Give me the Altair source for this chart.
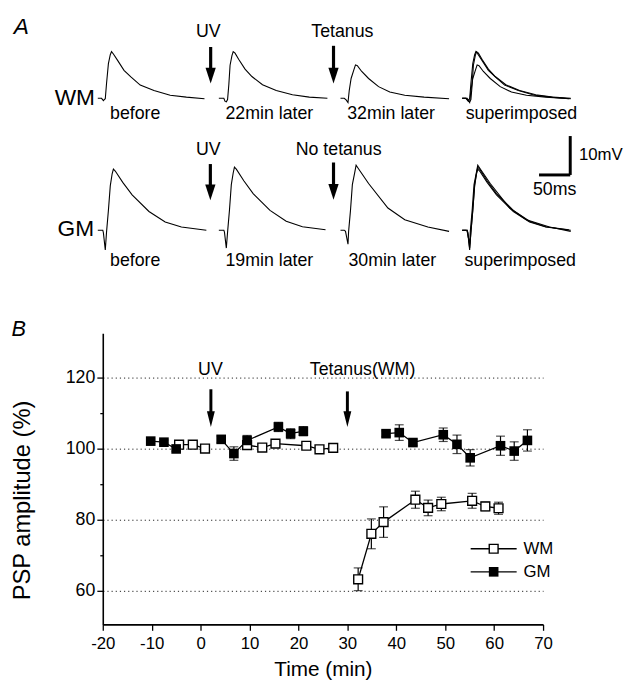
import altair as alt
import pandas as pd

FONT = "Liberation Sans"

# ---------------- Panel B data (time in min, PSP amplitude in %) ----------------
series_names = ["WM", "GM"]
uv_time = 2.1
tetanus_time = 30.0

wm_time = [-4.4, -1.6, 0.9, 9.5, 12.6, 15.3, 21.6, 24.3, 27.1,
           32.2, 34.9, 37.4, 43.9, 46.5, 49.2, 55.5, 58.2, 60.9]
wm_amp = [101.1, 101.1, 100.0, 101.0, 100.3, 101.4, 100.8, 99.8, 100.2,
          63.2, 76.0, 79.3, 85.6, 83.3, 84.4, 85.3, 83.7, 83.2]
wm_sem = [0.8, 0.8, 0.6, 1.0, 0.7, 0.8, 0.8, 1.0, 0.7,
          3.2, 4.2, 4.3, 2.4, 2.2, 1.9, 2.1, 1.2, 1.7]

gm_time = [-10.2, -7.5, -5.0, 4.2, 6.8, 9.5, 15.9, 18.4, 21.0,
           37.9, 40.6, 43.4, 49.6, 52.4, 55.1, 61.3, 64.1, 66.8]
gm_amp = [102.1, 101.8, 99.9, 102.6, 98.6, 102.3, 106.1, 104.2, 104.9,
          104.2, 104.5, 101.7, 103.9, 101.2, 97.4, 100.8, 99.3, 102.3]
gm_sem = [0.6, 0.6, 0.7, 0.9, 1.9, 1.4, 1.3, 1.4, 1.3,
          0.8, 2.2, 0.8, 1.9, 2.6, 2.3, 2.7, 2.6, 3.0]

# ---------------- Panel A data (traces: ms from sweep start, mV from baseline) ----------------
trace_ms = {
    "WM_before": [0, 6, 9, 10, 12, 14, 17, 20, 22, 25, 32, 42, 53, 68, 90, 116, 142, 171],
    "WM_22":     [0, 8, 10, 12, 14, 16, 18, 21, 23, 26, 32, 42, 53, 70, 92, 118, 145, 174],
    "WM_32":     [0, 6, 9, 12, 14, 17, 21, 24, 27, 34, 45, 61, 79, 103, 134, 174],
    "GM_before": [0, 8, 9, 12, 14, 17, 20, 23, 25, 28, 40, 55, 82, 108, 134, 174],
    "GM_19":     [0, 8, 9, 12, 14, 17, 20, 23, 25, 28, 40, 55, 82, 108, 134, 171],
    "GM_30":     [0, 6, 8, 12, 13, 16, 19, 23, 25, 28, 45, 76, 103, 140, 174],
}
trace_mv = {
    "WM_before": [0, 0, -0.6, -0.4, -0.1, 3.8, 8.9, 11.2, 12.0, 11.4, 9.7, 7.2, 5.5, 3.4, 2.0, 0.8, 0.3, -0.1],
    "WM_22":     [0, 0, -0.8, -0.9, -0.3, 3.5, 8.5, 11.0, 12.0, 11.6, 10.0, 7.5, 5.6, 3.5, 2.0, 0.9, 0.3, 0.0],
    "WM_32":     [0, 0, -0.4, -1.1, 2.0, 5.1, 7.1, 8.6, 8.4, 6.9, 5.1, 3.0, 1.6, 0.8, 0.3, -0.1],
    "GM_before": [0, 0, -0.7, -5.1, -0.5, 5.1, 11.4, 14.5, 15.7, 15.2, 12.3, 9.1, 4.8, 2.1, 0.8, 0.0],
    "GM_19":     [0, 0, -0.5, -4.6, -0.5, 5.1, 11.7, 14.7, 16.2, 15.7, 12.7, 9.4, 5.1, 2.3, 0.9, 0.1],
    "GM_30":     [0, 0, -0.3, -3.6, -0.3, 5.1, 11.7, 15.0, 16.7, 16.0, 12.0, 5.7, 2.7, 0.8, -0.3],
}
# (trace, column, row) -- last column is the superimposition of the three sweeps
placements = [
    ("WM_before", 0, "WM"), ("WM_22", 1, "WM"), ("WM_32", 2, "WM"),
    ("WM_before", 3, "WM"), ("WM_22", 3, "WM"), ("WM_32", 3, "WM"),
    ("GM_before", 0, "GM"), ("GM_19", 1, "GM"), ("GM_30", 2, "GM"),
    ("GM_before", 3, "GM"), ("GM_19", 3, "GM"), ("GM_30", 3, "GM"),
]
col_start_ms = [30, 224, 419, 614]
row_base_mv = {"WM": 52.0, "GM": 18.1}

sweep_labels = [
    ("before", 90, "WM"), ("22min later", 305, "WM"), ("32min later", 500, "WM"), ("superimposed", 709, "WM"),
    ("before", 90, "GM"), ("19min later", 305, "GM"), ("30min later", 502, "GM"), ("superimposed", 707, "GM"),
]
event_labels = [("UV", 207, 69.0), ("Tetanus", 422, 69.0), ("UV", 207, 38.6), ("No tetanus", 416, 38.6)]
arrows_a = [(210.9, 65.2, 55.8), (407.8, 65.5, 55.8), (210.4, 35.1, 25.8), (407.8, 35.5, 25.9)]
scale_ms, scale_mv = 50, 10
scale_corner = (787.2, 32.3)

# ---------------- build tables ----------------
rows = []
for name, t, a, s in [("WM", wm_time, wm_amp, wm_sem), ("GM", gm_time, gm_amp, gm_sem)]:
    for ti, ai, si in zip(t, a, s):
        seg = int(ti > uv_time) + int(ti > tetanus_time)
        rows.append(dict(series=name, time=ti, amp=ai, lo=ai - si, hi=ai + si, key=f"{name}{seg}"))
dfb = pd.DataFrame(rows)
df_wm = dfb[dfb["series"] == "WM"]
df_gm = dfb[dfb["series"] == "GM"]

trows = []
for k, (tr, col, row) in enumerate(placements):
    for i, (ms, mv) in enumerate(zip(trace_ms[tr], trace_mv[tr])):
        trows.append(dict(id=f"{k}", idx=i, t=col_start_ms[col] + ms, v=row_base_mv[row] + mv))
dft = pd.DataFrame(trows)

lab_v = {"WM": 48.0, "GM": 10.2}
df_sweep = pd.DataFrame([dict(text=s, t=t, v=lab_v[r]) for s, t, r in sweep_labels])
df_event = pd.DataFrame([dict(text=s, t=t, v=v) for s, t, v in event_labels])
df_rowlab = pd.DataFrame([dict(text="WM", t=25.5, v=52.0), dict(text="GM", t=24.0, v=18.3)])
df_arrow_a = pd.DataFrame([dict(t=t, top=a, tip=b) for t, a, b in arrows_a])
cx, cy = scale_corner
df_bar = pd.DataFrame([
    dict(t=cx - scale_ms, t2=cx, v=cy, v2=cy),
    dict(t=cx, t2=cx, v=cy, v2=cy + scale_mv),
])
df_bar_l = pd.DataFrame([dict(text=f"{scale_mv}mV", t=cx + 14, v=cy + scale_mv / 2)])
df_bar_c = pd.DataFrame([dict(text=f"{scale_ms}ms", t=cx - scale_ms / 2, v=cy - 3.9)])
df_a_letter = pd.DataFrame([dict(text="A", t=-92.6, v=70.2)])

# ---------------- Panel B ----------------
xs = alt.Scale(domain=[-20, 70], nice=False, zero=False)
ys = alt.Scale(domain=[50.5, 132.5], nice=False, zero=False)
x_axis = alt.Axis(
    values=list(range(-20, 71, 5)),
    labelExpr="datum.value % 10 == 0 ? '' + datum.value : ''",
    tickSize={"condition": {"test": "datum.value % 10 == 0", "value": 6}, "value": 3},
    title="Time (min)", grid=False, domainColor="black", domainWidth=1.6,
    tickColor="black", tickWidth=1.3, labelFontSize=17, labelPadding=5,
    titleFontSize=21, titleFontWeight="normal", titleBaseline="middle", titleY=46,
    labelColor="black", titleColor="black", labelFlush=False,
)
y_axis = alt.Axis(
    values=[60, 70, 80, 90, 100, 110, 120],
    labelExpr="datum.value % 20 == 0 ? datum.label : ''",
    tickSize={"condition": {"test": "datum.value % 20 == 0", "value": 6}, "value": 3},
    title="PSP amplitude (%)", grid=True,
    gridOpacity={"condition": {"test": "datum.value % 20 == 0", "value": 1}, "value": 0},
    gridDash=[1.2, 3], gridColor="#222", gridWidth=1,
    domainColor="black", domainWidth=1.6, tickColor="black", tickWidth=1.3,
    labelFontSize=18, labelPadding=2, titleFontSize=24, titleFontWeight="normal",
    titleBaseline="middle", titleX=-81, titleY=169,
    labelColor="black", titleColor="black",
)

X = alt.X("time:Q", scale=xs, axis=x_axis)
Y = alt.Y("amp:Q", scale=ys, axis=y_axis)

lines = alt.Chart(dfb).mark_line(color="black", strokeWidth=1.3).encode(
    x=X, y=Y, detail="key:N", order="time:Q")
err = alt.Chart(dfb).mark_rule(color="black", strokeWidth=1.2).encode(
    x=alt.X("time:Q", scale=xs), y=alt.Y("lo:Q", scale=ys), y2="hi:Q")
cap_lo = alt.Chart(dfb).mark_tick(orient="horizontal", size=9, thickness=1.2, color="black").encode(
    x=alt.X("time:Q", scale=xs), y=alt.Y("lo:Q", scale=ys))
cap_hi = alt.Chart(dfb).mark_tick(orient="horizontal", size=9, thickness=1.2, color="black").encode(
    x=alt.X("time:Q", scale=xs), y=alt.Y("hi:Q", scale=ys))
pts_wm = alt.Chart(df_wm).mark_point(shape="square", filled=True, fill="white", stroke="black",
                                     strokeWidth=1.4, size=80, opacity=1).encode(
    x=alt.X("time:Q", scale=xs), y=alt.Y("amp:Q", scale=ys))
pts_gm = alt.Chart(df_gm).mark_point(shape="square", filled=True, color="black", size=95, opacity=1).encode(
    x=alt.X("time:Q", scale=xs), y=alt.Y("amp:Q", scale=ys))

df_arrow_b = pd.DataFrame([dict(x=uv_time, top=116.7, tip=106.1),
                           dict(x=tetanus_time, top=116.1, tip=106.1)])
shaft_b = alt.Chart(df_arrow_b).mark_rule(color="black", strokeWidth=3, y2Offset=-8).encode(
    x=alt.X("x:Q", scale=xs), y=alt.Y("top:Q", scale=ys), y2="tip:Q")
head_b = alt.Chart(df_arrow_b).mark_point(shape="M-0.5,-1L0.5,-1L0,1Z", size=256, filled=True,
                                          color="black", opacity=1, yOffset=-8).encode(
    x=alt.X("x:Q", scale=xs), y=alt.Y("tip:Q", scale=ys))
df_btxt = pd.DataFrame([dict(text="UV", x=2.0, y=122.2), dict(text="Tetanus(WM)", x=33.1, y=122.2)])
txt_b = alt.Chart(df_btxt).mark_text(font=FONT, fontSize=18, color="black", baseline="middle").encode(
    x=alt.X("x:Q", scale=xs), y=alt.Y("y:Q", scale=ys), text="text:N")
df_bletter = pd.DataFrame([dict(text="B", x=-37.2, y=133.6)])
letter_b = alt.Chart(df_bletter).mark_text(font=FONT, fontSize=22, fontStyle="italic", color="black",
                                           baseline="middle").encode(
    x=alt.X("x:Q", scale=xs), y=alt.Y("y:Q", scale=ys), text="text:N")

# legend
leg = pd.DataFrame([dict(series=s, y=yy) for s, yy in zip(series_names, [71.8, 65.3])])
leg["x0"], leg["x1"], leg["xm"], leg["xt"] = 55.2, 64.6, 59.9, 65.6
leg_line = alt.Chart(leg).mark_rule(color="black", strokeWidth=1.3).encode(
    x=alt.X("x0:Q", scale=xs), x2="x1:Q", y=alt.Y("y:Q", scale=ys))
leg_wm = alt.Chart(leg[leg["series"] == "WM"]).mark_point(shape="square", filled=True, fill="white",
                                                         stroke="black", strokeWidth=1.4, size=80,
                                                         opacity=1).encode(
    x=alt.X("xm:Q", scale=xs), y=alt.Y("y:Q", scale=ys))
leg_gm = alt.Chart(leg[leg["series"] == "GM"]).mark_point(shape="square", filled=True, color="black",
                                                         size=95, opacity=1).encode(
    x=alt.X("xm:Q", scale=xs), y=alt.Y("y:Q", scale=ys))
leg_txt = alt.Chart(leg).mark_text(font=FONT, fontSize=17, align="left", baseline="middle", dx=2,
                                   color="black").encode(
    x=alt.X("xt:Q", scale=xs), y=alt.Y("y:Q", scale=ys), text="series:N")

panel_b = alt.layer(lines, err, cap_lo, cap_hi, pts_wm, pts_gm, shaft_b, head_b, txt_b, letter_b,
                    leg_line, leg_wm, leg_gm, leg_txt)

# ---------------- Panel A (independent scales placed above panel B) ----------------
ts = alt.Scale(domain=[0, 800], range=[-24, 481.6], nice=False, zero=False)
vs = alt.Scale(domain=[0, 75], range=[-33, -328.5], nice=False, zero=False)


def TX(f):
    return alt.X(f, scale=ts, axis=None)


def TY(f):
    return alt.Y(f, scale=vs, axis=None)


traces = alt.Chart(dft).mark_line(color="black", strokeWidth=1.1).encode(
    x=TX("t:Q"), y=TY("v:Q"), detail="id:N", order="idx:Q")
sweep_txt = alt.Chart(df_sweep).mark_text(font=FONT, fontSize=18, color="black", baseline="middle").encode(
    x=TX("t:Q"), y=TY("v:Q"), text="text:N")
event_txt = alt.Chart(df_event).mark_text(font=FONT, fontSize=18, color="black", baseline="middle").encode(
    x=TX("t:Q"), y=TY("v:Q"), text="text:N")
row_txt = alt.Chart(df_rowlab).mark_text(font=FONT, fontSize=23, color="black", baseline="middle",
                                         align="right").encode(
    x=TX("t:Q"), y=TY("v:Q"), text="text:N")
shaft_a = alt.Chart(df_arrow_a).mark_rule(color="black", strokeWidth=3.2, y2Offset=-8).encode(
    x=TX("t:Q"), y=TY("top:Q"), y2="tip:Q")
head_a = alt.Chart(df_arrow_a).mark_point(shape="M-0.65,-1L0.65,-1L0,1Z", size=256, filled=True,
                                          color="black", opacity=1, yOffset=-8).encode(
    x=TX("t:Q"), y=TY("tip:Q"))
bar = alt.Chart(df_bar).mark_rule(color="black", strokeWidth=3).encode(
    x=TX("t:Q"), x2="t2:Q", y=TY("v:Q"), y2="v2:Q")
bar_txt_l = alt.Chart(df_bar_l).mark_text(
    font=FONT, fontSize=17, color="black", baseline="middle", align="left").encode(
    x=TX("t:Q"), y=TY("v:Q"), text="text:N")
bar_txt_c = alt.Chart(df_bar_c).mark_text(
    font=FONT, fontSize=18, color="black", baseline="middle", align="center").encode(
    x=TX("t:Q"), y=TY("v:Q"), text="text:N")
letter_a = alt.Chart(df_a_letter).mark_text(font=FONT, fontSize=23, fontStyle="italic", color="black",
                                            baseline="middle").encode(
    x=TX("t:Q"), y=TY("v:Q"), text="text:N")

panel_a = alt.layer(traces, sweep_txt, event_txt, row_txt, shaft_a, head_a, bar, bar_txt_l, bar_txt_c, letter_a)

chart = alt.layer(panel_b, panel_a).resolve_scale(x="independent", y="independent").properties(
    width=446, height=295,
    padding={"left": 96, "top": 325, "right": 84, "bottom": 55},
    autosize=alt.AutoSizeParams(type="none"),
).configure_view(stroke=None).configure_axis(labelFont=FONT, titleFont=FONT, titleFontWeight="normal")

chart.save("out.html", embed_options={"renderer": "svg", "actions": False})
